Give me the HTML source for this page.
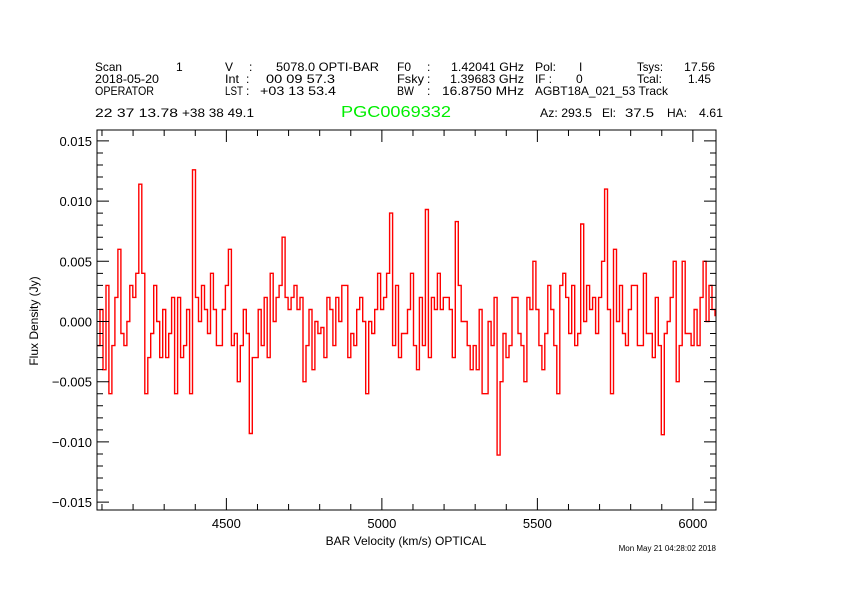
<!DOCTYPE html>
<html><head><meta charset="utf-8"><style>
html,body{margin:0;padding:0;background:#fff;}
svg{display:block;font-family:"Liberation Sans",sans-serif;}
</style></head><body>
<svg id="chart" width="842" height="595" viewBox="0 0 842 595" xmlns="http://www.w3.org/2000/svg">
<rect width="842" height="595" fill="#fff"/>
<g font-size="12" fill="#000" lengthAdjust="spacingAndGlyphs">
<text x="95" y="71" textLength="27" lengthAdjust="spacingAndGlyphs">Scan</text><text x="176" y="71">1</text>
<text x="225" y="71">V</text><text x="249" y="71">:</text><text x="276" y="71" textLength="103" lengthAdjust="spacingAndGlyphs">5078.0 OPTI-BAR</text>
<text x="397" y="71" textLength="14" lengthAdjust="spacingAndGlyphs">F0</text><text x="427" y="71">:</text><text x="451" y="71" textLength="73" lengthAdjust="spacingAndGlyphs">1.42041 GHz</text>
<text x="535" y="71" textLength="21" lengthAdjust="spacingAndGlyphs">Pol:</text><text x="579" y="71">I</text>
<text x="637" y="71" textLength="26" lengthAdjust="spacingAndGlyphs">Tsys:</text><text x="684" y="71" textLength="31" lengthAdjust="spacingAndGlyphs">17.56</text>
<text x="95" y="83" textLength="64" lengthAdjust="spacingAndGlyphs">2018-05-20</text>
<text x="225" y="83" textLength="14" lengthAdjust="spacingAndGlyphs">Int</text><text x="246" y="83">:</text><text x="266" y="83" textLength="69" lengthAdjust="spacingAndGlyphs">00 09 57.3</text>
<text x="397" y="83" textLength="27" lengthAdjust="spacingAndGlyphs">Fsky</text><text x="427" y="83">:</text><text x="450" y="83" textLength="74" lengthAdjust="spacingAndGlyphs">1.39683 GHz</text>
<text x="535" y="83" textLength="17" lengthAdjust="spacingAndGlyphs">IF :</text><text x="576" y="83">0</text>
<text x="637" y="83" textLength="25" lengthAdjust="spacingAndGlyphs">Tcal:</text><text x="688" y="83" textLength="23" lengthAdjust="spacingAndGlyphs">1.45</text>
<text x="95" y="95" textLength="59" lengthAdjust="spacingAndGlyphs">OPERATOR</text>
<text x="225" y="95" textLength="18" lengthAdjust="spacingAndGlyphs">LST</text><text x="246" y="95">:</text><text x="260" y="95" textLength="76" lengthAdjust="spacingAndGlyphs">+03 13 53.4</text>
<text x="397" y="95" textLength="17" lengthAdjust="spacingAndGlyphs">BW</text><text x="427" y="95">:</text><text x="442" y="95" textLength="82" lengthAdjust="spacingAndGlyphs">16.8750 MHz</text>
<text x="535" y="95" textLength="133" lengthAdjust="spacingAndGlyphs">AGBT18A_021_53 Track</text>
<text x="95" y="117" textLength="83" lengthAdjust="spacingAndGlyphs">22 37 13.78</text>
<text x="182" y="117" textLength="72" lengthAdjust="spacingAndGlyphs">+38 38 49.1</text>
<text x="540" y="117" textLength="52" lengthAdjust="spacingAndGlyphs">Az: 293.5</text>
<text x="602" y="117" textLength="14" lengthAdjust="spacingAndGlyphs">El:</text>
<text x="625" y="117" textLength="29" lengthAdjust="spacingAndGlyphs">37.5</text>
<text x="667" y="117" textLength="20" lengthAdjust="spacingAndGlyphs">HA:</text>
<text x="699" y="117" textLength="24" lengthAdjust="spacingAndGlyphs">4.61</text>
</g>
<text x="341" y="117" font-size="16" fill="#00ee00" textLength="110" lengthAdjust="spacingAndGlyphs">PGC0069332</text>
<g id="plot"></g>
<text x="406" y="545" font-size="12" text-anchor="middle">BAR Velocity (km/s) OPTICAL</text>
<text transform="translate(38,321) rotate(-90)" font-size="12" text-anchor="middle">Flux Density (Jy)</text>
<text x="716" y="551" font-size="8" text-anchor="end">Mon May 21 04:28:02 2018</text>
</svg>
<script>
const fluxMJy = [-2,1,-4,3,-6,-2,2,6,-1,-2,0,3,2,4,11.4,4,-6,-3,-1,3,0,-3,1,-3,-1,2,-6,2,-3,-2,1,-6,12.6,2,0,3,1,-1,4,1,-2,-2,1,3,6,-2,-1,-5,-2,1,-1,-9.3,-3,-3,1,-2,2,-3,4,0,2,3,7,2,1,2,3,1,2,-5,-2,1,-4,0,-1,
-0.5,-3,2,1,-2,2,0,3,3,-3,-1,-2,1,2,0,-6,0,-1,1,4,1,2,4,9,-2,3,-3,-1,-1,1,4,-2,-4,2,-2,9.3,-3,2,1,4,1,2,2,1,-3,8.3,3,0,0,-2,-4,-2,-4,1,-6,-6,0,-2,2,-11.1,-5,-1,-3,-2,2,2,-1,
-2,-5,2,1,5,1,-2,-4,-1,3,1,-2,-6,3,4,2,-1,3,-2,-1,8.1,0,3,1,2,-1,2,5,11,1,-6,6,0,3,-1,-2,1,3,3,-2,-2,4,-1,-1,-3,2,-2,-9.4,-1,0,2,5,-5,-2,5,-1,-1,-2,1,-2,2,5,0,3,1,0.5];
const velStart = 4084, velStep = 9.6;
const yTicks = [-0.015,-0.010,-0.005,0.000,0.005,0.010,0.015];
const yTickLabels = ["\u22120.015","\u22120.010","\u22120.005","0.000","0.005","0.010","0.015"];
const xTicks = [4500,5000,5500,6000];
const xTickLabels = ["4500","5000","5500","6000"];

const L=97,R=716,T=130,B=510;
const xs = v => L + (v-4084)*(155.5/500);
const ys = f => 321.5 - f*(60.2/0.005);
const NS="http://www.w3.org/2000/svg";
const g=document.getElementById('plot');
function mk(t,a){const e=document.createElementNS(NS,t);for(const k in a)e.setAttribute(k,a[k]);return e;}

const clip=mk('clipPath',{id:'pc'});clip.appendChild(mk('rect',{x:L,y:T,width:R-L,height:B-T}));g.appendChild(clip);
let d='';
fluxMJy.forEach((m,i)=>{const x0=xs(velStart+i*velStep),x1=xs(velStart+(i+1)*velStep),y=ys(m/1000);
 d+=(i===0?'M':'L')+x0.toFixed(1)+','+y.toFixed(1)+'L'+x1.toFixed(1)+','+y.toFixed(1);});
const line=mk('path',{d:d,fill:'none',stroke:'#ff0000','stroke-width':1.4,'clip-path':'url(#pc)'});


g.appendChild(line);

const frame=mk('rect',{x:L,y:T,width:R-L,height:B-T,fill:'none',stroke:'#000','stroke-width':1});


g.appendChild(frame);

let td='';
for(let k=-15;k<=15;k++){const y=ys(k/1000);if(y<T||y>B)continue;const len=(k%5===0)?12:6;
 td+=`M${L},${y}h${len}M${R},${y}h${-len}`;}
for(let v=4100;v<=6000;v+=100){const x=xs(v);const len=(v%500===0)?12:6;
 td+=`M${x},${B}v${-len}M${x},${T}v${len}`;}
const ticks=mk('path',{d:td,stroke:'#000','stroke-width':1,fill:'none'});


g.appendChild(ticks);

yTicks.forEach((t,i)=>{const e=mk('text',{x:92,y:ys(t)+5,'font-size':13,'text-anchor':'end'});e.textContent=yTickLabels[i];
 
 
 g.appendChild(e);});
xTicks.forEach((t,i)=>{const e=mk('text',{x:xs(t),y:528,'font-size':13,'text-anchor':'middle'});e.textContent=xTickLabels[i];
 
 
 g.appendChild(e);});
</script>
</body></html>
